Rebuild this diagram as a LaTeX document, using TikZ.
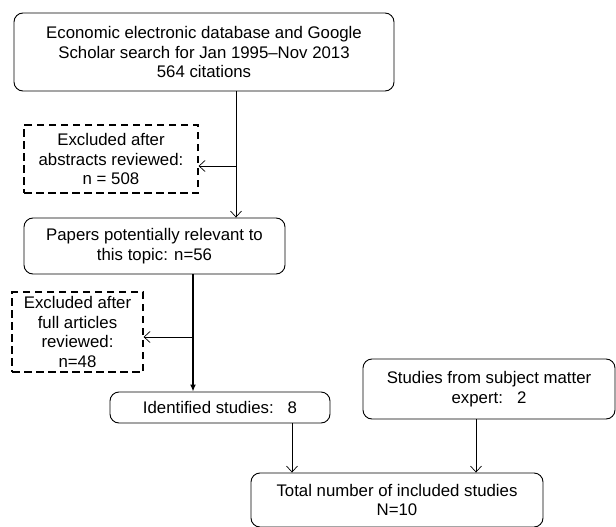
\documentclass[tikz,border=0pt]{standalone}
\usepackage{fontspec}
\setmainfont{Liberation Sans}
\usepackage{tikz}
\usetikzlibrary{arrows.meta}
\usetikzlibrary{positioning}
\tikzset{roundbox/.style = {draw, rounded corners=9pt, line width=0.9pt, inner sep=0, align=center}}
\tikzset{dashbox/.style = {draw, dashed, dash pattern=on 7.5pt off 4.5pt, line width=1.1pt, inner sep=0, align=center}}
\tikzset{flow/.style = {line width=0.7pt, -{Straight Barb[length=6pt,width=11pt]}}}
\tikzset{mainflow/.style = {line width=1.8pt, -{Latex[length=7pt,width=6pt]}}}

\begin{document}
\begin{tikzpicture}[x=1pt,y=-1pt,font=\fontsize{16.8}{19.5}\selectfont]
        \useasboundingbox (0,0) rectangle (616,527);
        \node [roundbox, minimum width=380, minimum height=78] (search) at (204,52)
            {Economic electronic database and Google\\Scholar search for Jan 1995--Nov 2013\\564 citations};
        \node [dashbox, minimum width=174, minimum height=68] (excludedAbs) at (111,159)
            {Excluded after\\abstracts reviewed:\\n = 508};
        \node [roundbox, minimum width=261, minimum height=56] (papers) at (154.5,246)
            {Papers potentially relevant to\\this topic: n=56};
        \node [dashbox, minimum width=131, minimum height=80] (excludedFull) at (77.5,332)
            {Excluded after\\full articles\\reviewed:\\n=48};
        \node [roundbox, minimum width=220, minimum height=31] (identified) at (220,407.5)
            {Identified studies:\ \ \ 8};
        \node [roundbox, minimum width=252, minimum height=60] (expert) at (489,389)
            {Studies from subject matter\\expert:\ \ \ 2};
        \node [roundbox, minimum width=292, minimum height=54] (total) at (397,500)
            {Total number of included studies\\N=10};
        \coordinate (abs) at (236,166);
        \coordinate (full) at (193,337);
        \draw [flow] (search.south -| abs) -- (papers.north -| abs);
        \draw [flow] (abs) -- (abs -| excludedAbs.east);
        \draw [mainflow] (papers.south -| full) -- (identified.north -| full);
        \draw [flow] (full) -- (full -| excludedFull.east);
        \draw [flow] (identified.south -| 292,0) -- (total.north -| 292,0);
        \draw [flow] (expert.south -| 476,0) -- (total.north -| 476,0);
    \end{tikzpicture}
\end{document}
